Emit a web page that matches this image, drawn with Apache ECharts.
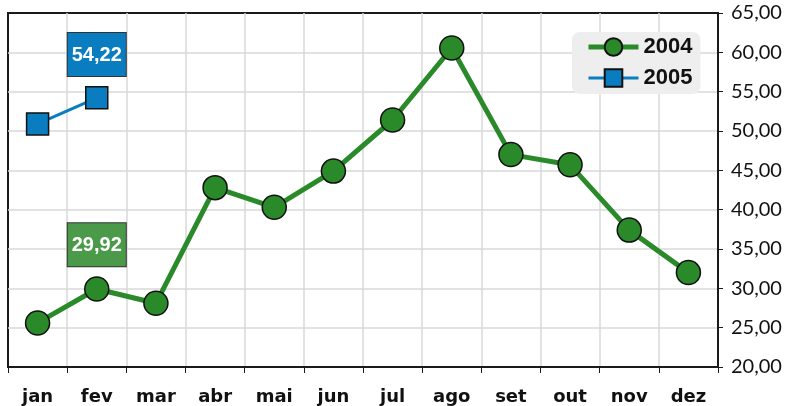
<!DOCTYPE html>
<html>
<head>
<meta charset="utf-8">
<script src="https://cdn.jsdelivr.net/npm/echarts@6/dist/echarts.min.js"></script>
<style>
  html, body { margin: 0; padding: 0; background: #fff; }
  #chart { width: 785px; height: 406px; }
</style>
</head>
<body>
<div id="chart"></div>
<script>
// meses
const months = ["jan", "fev", "mar", "abr", "mai", "jun", "jul", "ago", "set", "out", "nov", "dez"];
// valores
const values2004 = [25.6, 29.92, 28.1, 42.8, 40.3, 44.9, 51.4, 60.55, 47.0, 45.7, 37.4, 32.0];
const values2005 = [50.9, 54.22];
// mês que recebe o rótulo
const labelIndex = 1;

const fmt = v => v.toFixed(2).replace(".", ",");

function withLabel(arr, bg) {
  return arr.map((v, i) => {
    if (i !== labelIndex) return v;
    return {
      value: v,
      label: {
        show: true,
        position: "top",
        distance: 10,
        formatter: p => fmt(p.value),
        color: "#fff",
        fontWeight: "bold",
        fontSize: 20,
        lineHeight: 24,
        fontFamily: "Liberation Sans",
        backgroundColor: bg,
        borderColor: "#333",
        borderWidth: 1,
        padding: [10, 4, 9, 4],
      },
    };
  });
}

let myChart = echarts.init(document.getElementById("chart"));
myChart.setOption({
  animation: false,
  grid: {
    left: 8,
    right: 67,
    top: 13,
    bottom: 39,
    show: true,
    borderColor: "#1a1a1a",
    borderWidth: 2,
    backgroundColor: "#fff",
  },
  legend: {
    left: 572,
    top: 32,
    orient: "vertical",
    backgroundColor: "#eeeeee",
    borderRadius: 8,
    padding: [4, 8, 5, 14],
    itemGap: 9,
    itemWidth: 50,
    itemHeight: 22,
    textStyle: {
      fontSize: 22,
      fontWeight: "bold",
      color: "#111",
      fontFamily: "Liberation Sans",
    },
    data: [
      { name: "2004", lineStyle: { width: 5 } },
      { name: "2005", lineStyle: { width: 3 } },
    ],
  },
  xAxis: {
    type: "category",
    data: months,
    boundaryGap: true,
    axisLine: { lineStyle: { color: "#1a1a1a", width: 2 } },
    axisTick: { show: true, length: 6, lineStyle: { color: "#1a1a1a" } },
    axisLabel: {
      color: "#111",
      fontSize: 18,
      fontWeight: "bold",
      fontFamily: "DejaVu Sans",
      margin: 21,
    },
    splitLine: {
      show: true,
      showMinLine: false,
      showMaxLine: false,
      lineStyle: { color: "#d9d9d9", width: 1.5 },
    },
  },
  yAxis: {
    type: "value",
    position: "right",
    min: 20,
    max: 65,
    interval: 5,
    axisLine: { show: true, lineStyle: { color: "#1a1a1a", width: 2 } },
    axisTick: { show: true, length: 5, lineStyle: { color: "#1a1a1a" } },
    axisLabel: {
      color: "#111",
      fontSize: 20,
      fontFamily: "Lato",
      margin: 13,
      formatter: v => fmt(v),
    },
    splitLine: {
      showMinLine: false,
      showMaxLine: false,
      lineStyle: { color: "#d9d9d9", width: 1.5 },
    },
  },
  series: [
    {
      name: "2004",
      type: "line",
      data: withLabel(values2004, "#4a9a4a"),
      symbol: "circle",
      symbolSize: 24,
      color: "#2a8a2a",
      lineStyle: { width: 5, color: "#2a8a2a" },
      itemStyle: { color: "#2a8a2a", borderColor: "#111", borderWidth: 1.5 },
    },
    {
      name: "2005",
      type: "line",
      data: withLabel(values2005, "#0a7cc0"),
      symbol: "rect",
      symbolSize: 22,
      color: "#0a7cc0",
      lineStyle: { width: 3, color: "#0a7cc0" },
      itemStyle: { color: "#0a7cc0", borderColor: "#111", borderWidth: 1.5 },
    },
  ],
});

window.addEventListener("resize", () => {
  myChart.resize();
});
</script>
</body>
</html>
